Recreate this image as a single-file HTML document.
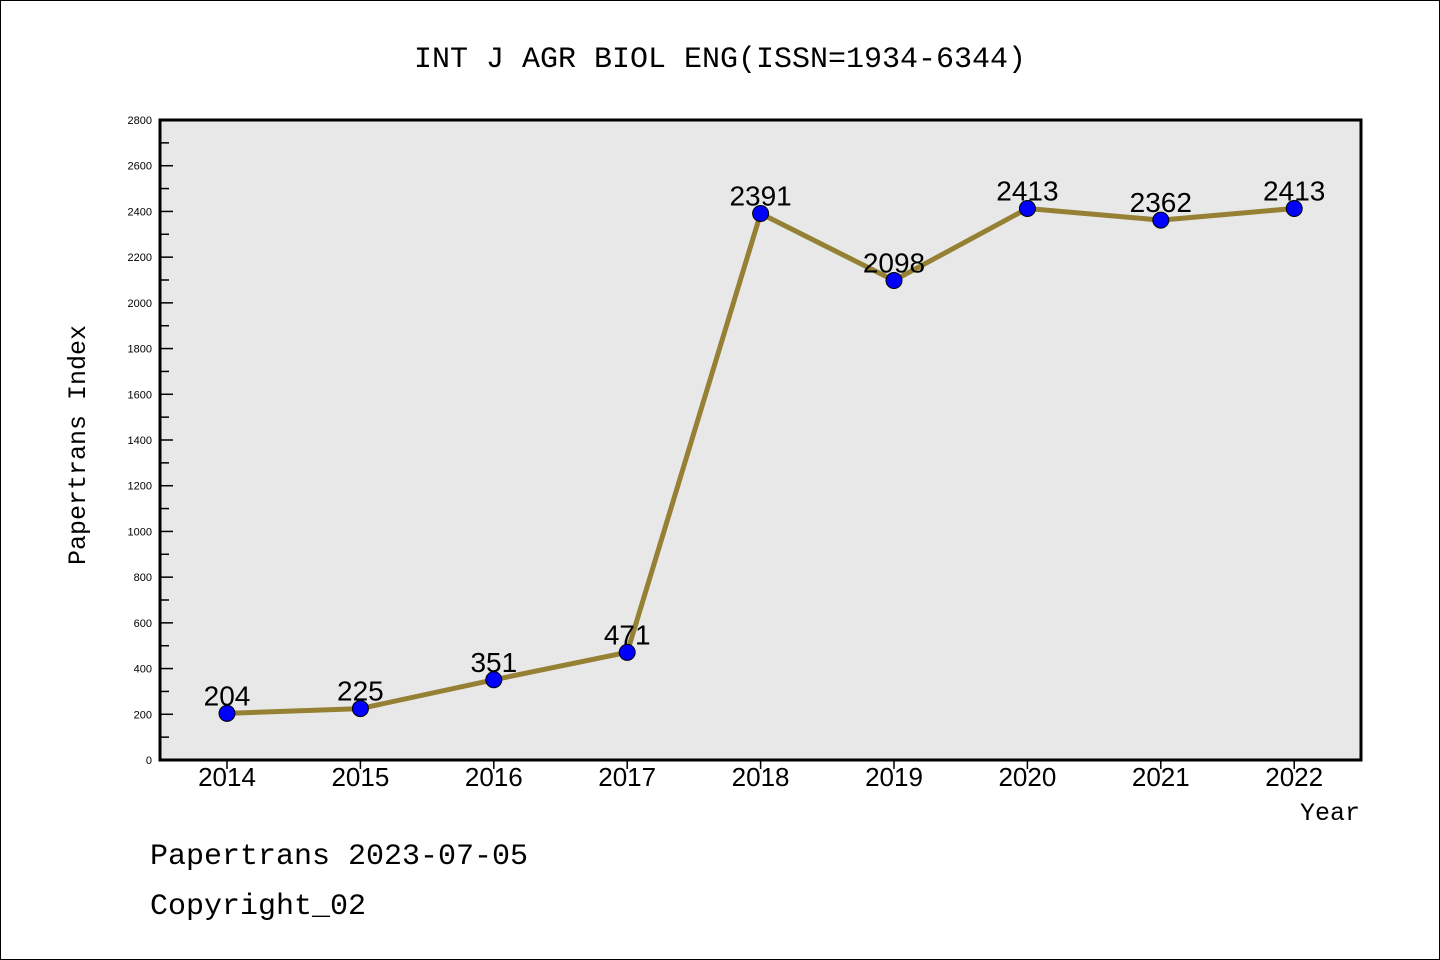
<!DOCTYPE html>
<html><head><meta charset="utf-8"><style>
html,body{margin:0;padding:0;background:#fff}
svg{display:block}
</style></head><body>
<svg id="chart" width="1440" height="960" xmlns="http://www.w3.org/2000/svg">
<rect x="0.5" y="0.5" width="1439" height="959" fill="#fff" stroke="#000" stroke-width="1"/>
<text x="720" y="67" text-anchor="middle" font-family="'WenQuanYi Zen Hei','Liberation Mono',monospace" font-size="30">INT J AGR BIOL ENG(ISSN=1934-6344)</text>
<rect x="160" y="120" width="1201" height="640" fill="#e8e8e8"/>
<g id="yticks"></g>
<g id="xticks"></g>
<g id="series"></g>
<rect x="160" y="120" width="1201" height="640" fill="none" stroke="#000" stroke-width="3"/>
<text transform="translate(85,445) rotate(-90)" text-anchor="middle" font-family="'WenQuanYi Zen Hei','Liberation Mono',monospace" font-size="25">Papertrans Index</text>
<text x="1360" y="820" text-anchor="end" font-family="'WenQuanYi Zen Hei','Liberation Mono',monospace" font-size="25">Year</text>
<text x="150" y="864" font-family="'WenQuanYi Zen Hei','Liberation Mono',monospace" font-size="30">Papertrans 2023-07-05</text>
<text x="150" y="914" font-family="'WenQuanYi Zen Hei','Liberation Mono',monospace" font-size="30">Copyright_02</text>
</svg>
<script>
const years = ["2014","2015","2016","2017","2018","2019","2020","2021","2022"];
const values = [204,225,351,471,2391,2098,2413,2362,2413];
const yTickLabels = [0,200,400,600,800,1000,1200,1400,1600,1800,2000,2200,2400,2600,2800];
const NS="http://www.w3.org/2000/svg";
const yMax=2800, plotTop=120, plotBottom=760, x0=227, xStep=133.4;
function ys(v){return plotBottom-(v/yMax)*(plotBottom-plotTop);}
function xs(i){return x0+i*xStep;}
function mk(tag,attrs,parent){const e=document.createElementNS(NS,tag);for(const k in attrs)e.setAttribute(k,attrs[k]);parent.appendChild(e);return e;}
const yg=document.getElementById('yticks');
yTickLabels.forEach((v,i)=>{
  const y=ys(v);
  const t=mk('line',{x1:160,x2:173,y1:y,y2:y,stroke:'#000','stroke-width':1.5},yg);
  
  
  const l=mk('text',{x:152,y:y+4,'text-anchor':'end','font-family':"'Liberation Sans',sans-serif",'font-size':11},yg);
  
  
  l.textContent=v;
  if(i<yTickLabels.length-1){
    const ym=ys(v+(yTickLabels[1]-yTickLabels[0])/2);
    const m=mk('line',{x1:160,x2:169,y1:ym,y2:ym,stroke:'#000','stroke-width':1.5},yg);
    
    
  }
});
const xg=document.getElementById('xticks');
years.forEach((yr,i)=>{
  const x=xs(i);
  const t=mk('line',{x1:x,x2:x,y1:760,y2:769,stroke:'#000','stroke-width':1.5},xg);
  
  
  const l=mk('text',{x:x,y:786,'text-anchor':'middle','font-family':"'Liberation Sans',sans-serif",'font-size':26},xg);
  
  
  l.textContent=yr;
});
const sg=document.getElementById('series');
const pts=values.map((v,i)=>xs(i)+','+ys(v)).join(' ');
const pl=mk('polyline',{points:pts,fill:'none',stroke:'#958034','stroke-width':5,'stroke-linejoin':'round'},sg);


values.forEach((v,i)=>{
  const c=mk('circle',{cx:xs(i),cy:ys(v),r:8,fill:'#0000ff',stroke:'#000','stroke-width':1},sg);
  
  
  const l=mk('text',{x:xs(i),y:ys(v)-8,'text-anchor':'middle','font-family':"'Liberation Sans',sans-serif",'font-size':28},sg);
  
  
  l.textContent=v;
});
</script>
</body></html>
